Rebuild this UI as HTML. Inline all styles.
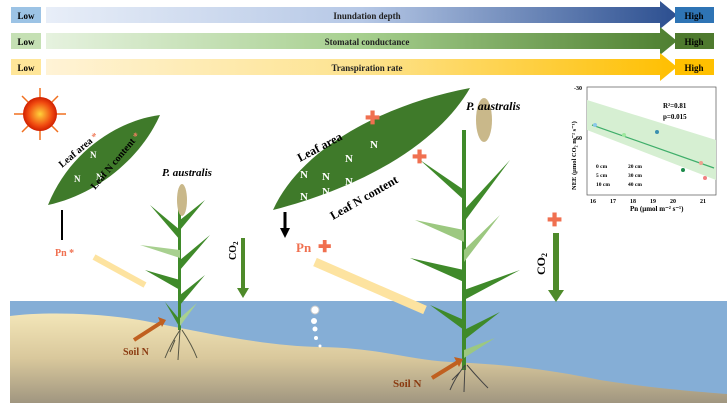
<!DOCTYPE html>
<html><head><style>body{margin:0;width:727px;height:403px;overflow:hidden;background:#fff;font-family:"Liberation Serif",serif}</style></head><body>
<svg width="727" height="403" xmlns="http://www.w3.org/2000/svg" font-family="Liberation Serif, serif">
<defs>
<linearGradient id="g1"><stop offset="0" stop-color="#e8eef8"/><stop offset="0.5" stop-color="#b6c8e6"/><stop offset="1" stop-color="#2c4f90"/></linearGradient>
<linearGradient id="g2"><stop offset="0" stop-color="#e6f2df"/><stop offset="0.5" stop-color="#a6cf8e"/><stop offset="1" stop-color="#4e7f30"/></linearGradient>
<linearGradient id="g3"><stop offset="0" stop-color="#fff3d6"/><stop offset="0.5" stop-color="#fde38f"/><stop offset="1" stop-color="#ffbf00"/></linearGradient>
<radialGradient id="sun"><stop offset="0" stop-color="#ffd23a"/><stop offset="0.7" stop-color="#f04a10"/><stop offset="1" stop-color="#d02000"/></radialGradient>
<linearGradient id="sand" x1="0" y1="0" x2="0" y2="1"><stop offset="0" stop-color="#f3e6b8"/><stop offset="0.5" stop-color="#d9c89c"/><stop offset="1" stop-color="#a09680"/></linearGradient>
</defs>
<!-- bars -->
<rect x="11" y="7" width="30" height="16" fill="#9cc3e5"/><text x="26" y="19" font-size="9" font-weight="bold" text-anchor="middle">Low</text>
<path d="M46 7 H660 V1 L677 15 L660 29 V23 H46Z" fill="url(#g1)"/>
<text x="367" y="19" font-size="9" font-weight="bold" text-anchor="middle" fill="#222">Inundation depth</text>
<rect x="675" y="7" width="39" height="16" fill="#2e74b5"/><text x="694" y="19" font-size="9" font-weight="bold" text-anchor="middle">High</text>

<rect x="11" y="33" width="30" height="16" fill="#c5e0b4"/><text x="26" y="45" font-size="9" font-weight="bold" text-anchor="middle">Low</text>
<path d="M46 33 H660 V27 L677 41 L660 55 V49 H46Z" fill="url(#g2)"/>
<text x="367" y="45" font-size="9" font-weight="bold" text-anchor="middle" fill="#222">Stomatal conductance</text>
<rect x="675" y="33" width="39" height="16" fill="#4e7a2e"/><text x="694" y="45" font-size="9" font-weight="bold" text-anchor="middle">High</text>

<rect x="11" y="59" width="30" height="16" fill="#ffe699"/><text x="26" y="71" font-size="9" font-weight="bold" text-anchor="middle">Low</text>
<path d="M46 59 H660 V53 L677 67 L660 81 V75 H46Z" fill="url(#g3)"/>
<text x="367" y="71" font-size="9" font-weight="bold" text-anchor="middle" fill="#222">Transpiration rate</text>
<rect x="675" y="59" width="39" height="16" fill="#ffc000"/><text x="694" y="71" font-size="9" font-weight="bold" text-anchor="middle">High</text>

<!-- water & soil -->
<rect x="10" y="301" width="717" height="102" fill="#85aed6"/>
<path d="M10 316 C40 312 100 312 150 322 C220 336 270 346 320 347 C380 348 410 360 450 362 C520 365 560 372 600 380 C650 388 700 392 727 394 V403 H10Z" fill="url(#sand)"/>
<!-- sun -->
<g stroke="#f07020" stroke-width="1.5">
<line x1="40" y1="88" x2="40" y2="140"/><line x1="14" y1="114" x2="66" y2="114"/><line x1="22" y1="96" x2="58" y2="132"/><line x1="22" y1="132" x2="58" y2="96"/></g>
<circle cx="40" cy="114" r="17" fill="url(#sun)"/>
<!-- small leaf -->
<path d="M48 205 C70 150 120 120 160 115 C140 160 95 195 48 205Z" fill="#3f7a2a"/>
<text x="90" y="158" font-size="9" font-weight="bold" fill="#fff">N</text><text x="74" y="182" font-size="9" font-weight="bold" fill="#fff">N</text><text x="96" y="180" font-size="9" font-weight="bold" fill="#fff">N</text>
<text transform="translate(62,168) rotate(-40)" font-size="10" font-weight="bold">Leaf area <tspan fill="#f08060">*</tspan></text>
<text transform="translate(95,190) rotate(-50)" font-size="10" font-weight="bold">Leaf N content <tspan fill="#f08060">*</tspan></text>
<line x1="62" y1="210" x2="62" y2="240" stroke="#000" stroke-width="2"/>
<text x="55" y="256" font-size="10" font-weight="bold" fill="#f07050">Pn *</text>
<path d="M94 257 L145 285" stroke="#fde3a0" stroke-width="6"/>
<text x="162" y="176" font-size="11" font-weight="bold" font-style="italic">P. australis</text>
<!-- small plant -->
<g fill="#3f8a2a"><rect x="178" y="190" width="3" height="140"/>
<path d="M180 230 L150 205 L180 240Z"/><path d="M180 250 L140 245 L180 258Z" fill="#a8d090"/><path d="M180 220 L205 200 L180 230Z"/><path d="M180 260 L210 235 L180 270Z"/><path d="M180 280 L145 270 L180 290Z"/><path d="M180 295 L205 275 L180 305Z"/><path d="M180 320 L165 302 L180 328Z"/><path d="M180 318 L197 303 L180 326Z" fill="#a8d090"/></g>
<ellipse cx="182" cy="200" rx="5" ry="16" fill="#c9b88a"/>
<path d="M243 238 V290" stroke="#4e8a2a" stroke-width="4"/><path d="M237 288 L243 298 L249 288Z" fill="#4e8a2a"/>
<text transform="translate(236,260) rotate(-90)" font-size="10" font-weight="bold">CO<tspan font-size="7" dy="2">2</tspan></text>
<path d="M180 330 Q170 345 165 358 M182 330 Q192 345 197 358 M180 330 L178 360 M175 340 L170 352" stroke="#554" fill="none"/>
<path d="M134 340 L162 322" stroke="#c06020" stroke-width="4"/><path d="M158 317 L166 320 L162 327Z" fill="#c06020"/>
<text transform="translate(95,380) rotate(-15)" font-size="10" font-weight="bold" fill="#8a3a10"> </text>
<text x="123" y="355" font-size="10" font-weight="bold" fill="#8a3a10">Soil N</text>
<!-- bubbles -->
<circle cx="315" cy="310" r="4" fill="#fff" stroke="#ccc"/><circle cx="314" cy="321" r="3" fill="#fff"/><circle cx="315" cy="329" r="2.5" fill="#fff"/><circle cx="316" cy="338" r="2" fill="#fff"/><circle cx="320" cy="346" r="1.5" fill="#fff"/>
<!-- big leaf -->
<path d="M273 210 C300 150 380 105 470 88 C440 140 370 185 273 210Z" fill="#3f7a2a"/>
<g font-size="11" font-weight="bold" fill="#fff"><text x="300" y="178">N</text><text x="322" y="180">N</text><text x="345" y="162">N</text><text x="370" y="148">N</text><text x="300" y="200">N</text><text x="322" y="195">N</text><text x="345" y="185">N</text></g>
<text transform="translate(300,162) rotate(-28)" font-size="12" font-weight="bold">Leaf area</text>
<text x="365" y="124" font-size="18" font-weight="bold" fill="#f07050">✚</text>
<text transform="translate(333,220) rotate(-30)" font-size="12" font-weight="bold">Leaf N content</text>
<text x="412" y="163" font-size="18" font-weight="bold" fill="#f07050">✚</text>
<line x1="285" y1="212" x2="285" y2="230" stroke="#000" stroke-width="3"/><path d="M280 228 L285 238 L290 228Z"/>
<text x="296" y="252" font-size="13" font-weight="bold" fill="#f07050">Pn</text><text x="318" y="252" font-size="16" font-weight="bold" fill="#f07050">✚</text>
<path d="M315 262 L425 310" stroke="#fde3a0" stroke-width="9"/>
<!-- big plant -->
<g fill="#3f8a2a"><rect x="462" y="130" width="4" height="240"/>
<path d="M464 190 L420 160 L464 200Z"/><path d="M464 210 L510 160 L464 222Z"/><path d="M464 230 L415 220 L464 242Z" fill="#9cc880"/><path d="M464 250 L500 215 L464 262Z" fill="#9cc880"/><path d="M464 270 L410 258 L464 282Z"/><path d="M464 290 L520 270 L464 300Z"/><path d="M464 320 L430 305 L464 330Z"/><path d="M464 330 L500 312 L464 340Z"/><path d="M464 350 L495 338 L464 358Z" fill="#9cc880"/></g>
<ellipse cx="484" cy="120" rx="8" ry="22" fill="#c9b88a"/>
<text x="466" y="110" font-size="12" font-weight="bold" font-style="italic">P. australis</text>
<path d="M556 233 V292" stroke="#4e8a2a" stroke-width="6"/><path d="M548 290 L556 302 L564 290Z" fill="#4e8a2a"/>
<text x="547" y="226" font-size="18" font-weight="bold" fill="#f07050">✚</text>
<text transform="translate(545,275) rotate(-90)" font-size="12" font-weight="bold">CO<tspan font-size="8" dy="2">2</tspan></text>
<path d="M465 365 Q455 378 450 390 M467 365 Q478 378 488 388 M465 365 L464 392 M460 372 L452 380" stroke="#444" fill="none"/>
<path d="M432 378 L458 362" stroke="#c06020" stroke-width="4"/><path d="M454 357 L463 359 L459 367Z" fill="#c06020"/>
<text x="393" y="387" font-size="11" font-weight="bold" fill="#8a3a10">Soil N</text>
<!-- chart -->
<rect x="586" y="86" width="130" height="110" fill="#fff"/>
<rect x="587" y="87" width="129" height="108" fill="none" stroke="#555" stroke-width="0.7"/>
<path d="M587 100 L716 140 L716 180 L587 130Z" fill="#d6efd2"/>
<line x1="592" y1="125" x2="714" y2="168" stroke="#3fae6a" stroke-width="1.2"/>
<circle cx="595" cy="125" r="2" fill="#8bc8e8"/><circle cx="624" cy="135" r="2" fill="#9ee89e"/><circle cx="657" cy="132" r="2" fill="#3a8fb0"/><circle cx="683" cy="170" r="2" fill="#1c8a4a"/><circle cx="701" cy="163" r="2" fill="#f0a090"/><circle cx="705" cy="178" r="2" fill="#f08080"/>
<text x="663" y="108" font-size="7" font-weight="bold">R²=0.81</text><text x="663" y="119" font-size="7" font-weight="bold">p=0.015</text>
<g font-size="5.5" font-weight="bold"><text x="596" y="168">0 cm</text><text x="596" y="177">5 cm</text><text x="596" y="186">10 cm</text><text x="628" y="168">20 cm</text><text x="628" y="177">30 cm</text><text x="628" y="186">40 cm</text></g>
<g font-size="6" font-weight="bold"><text x="574" y="90">-30</text><text x="574" y="140">-60</text><text x="590" y="203">16</text><text x="610" y="203">17</text><text x="630" y="203">18</text><text x="650" y="203">19</text><text x="670" y="203">20</text><text x="700" y="203">21</text></g>
<text x="630" y="211" font-size="7" font-weight="bold">Pn (μmol m⁻² s⁻¹)</text>
<text transform="translate(576,190) rotate(-90)" font-size="6.5" font-weight="bold">NEE (μmol CO₂ m⁻² s⁻¹)</text>
</svg>
</body></html>
